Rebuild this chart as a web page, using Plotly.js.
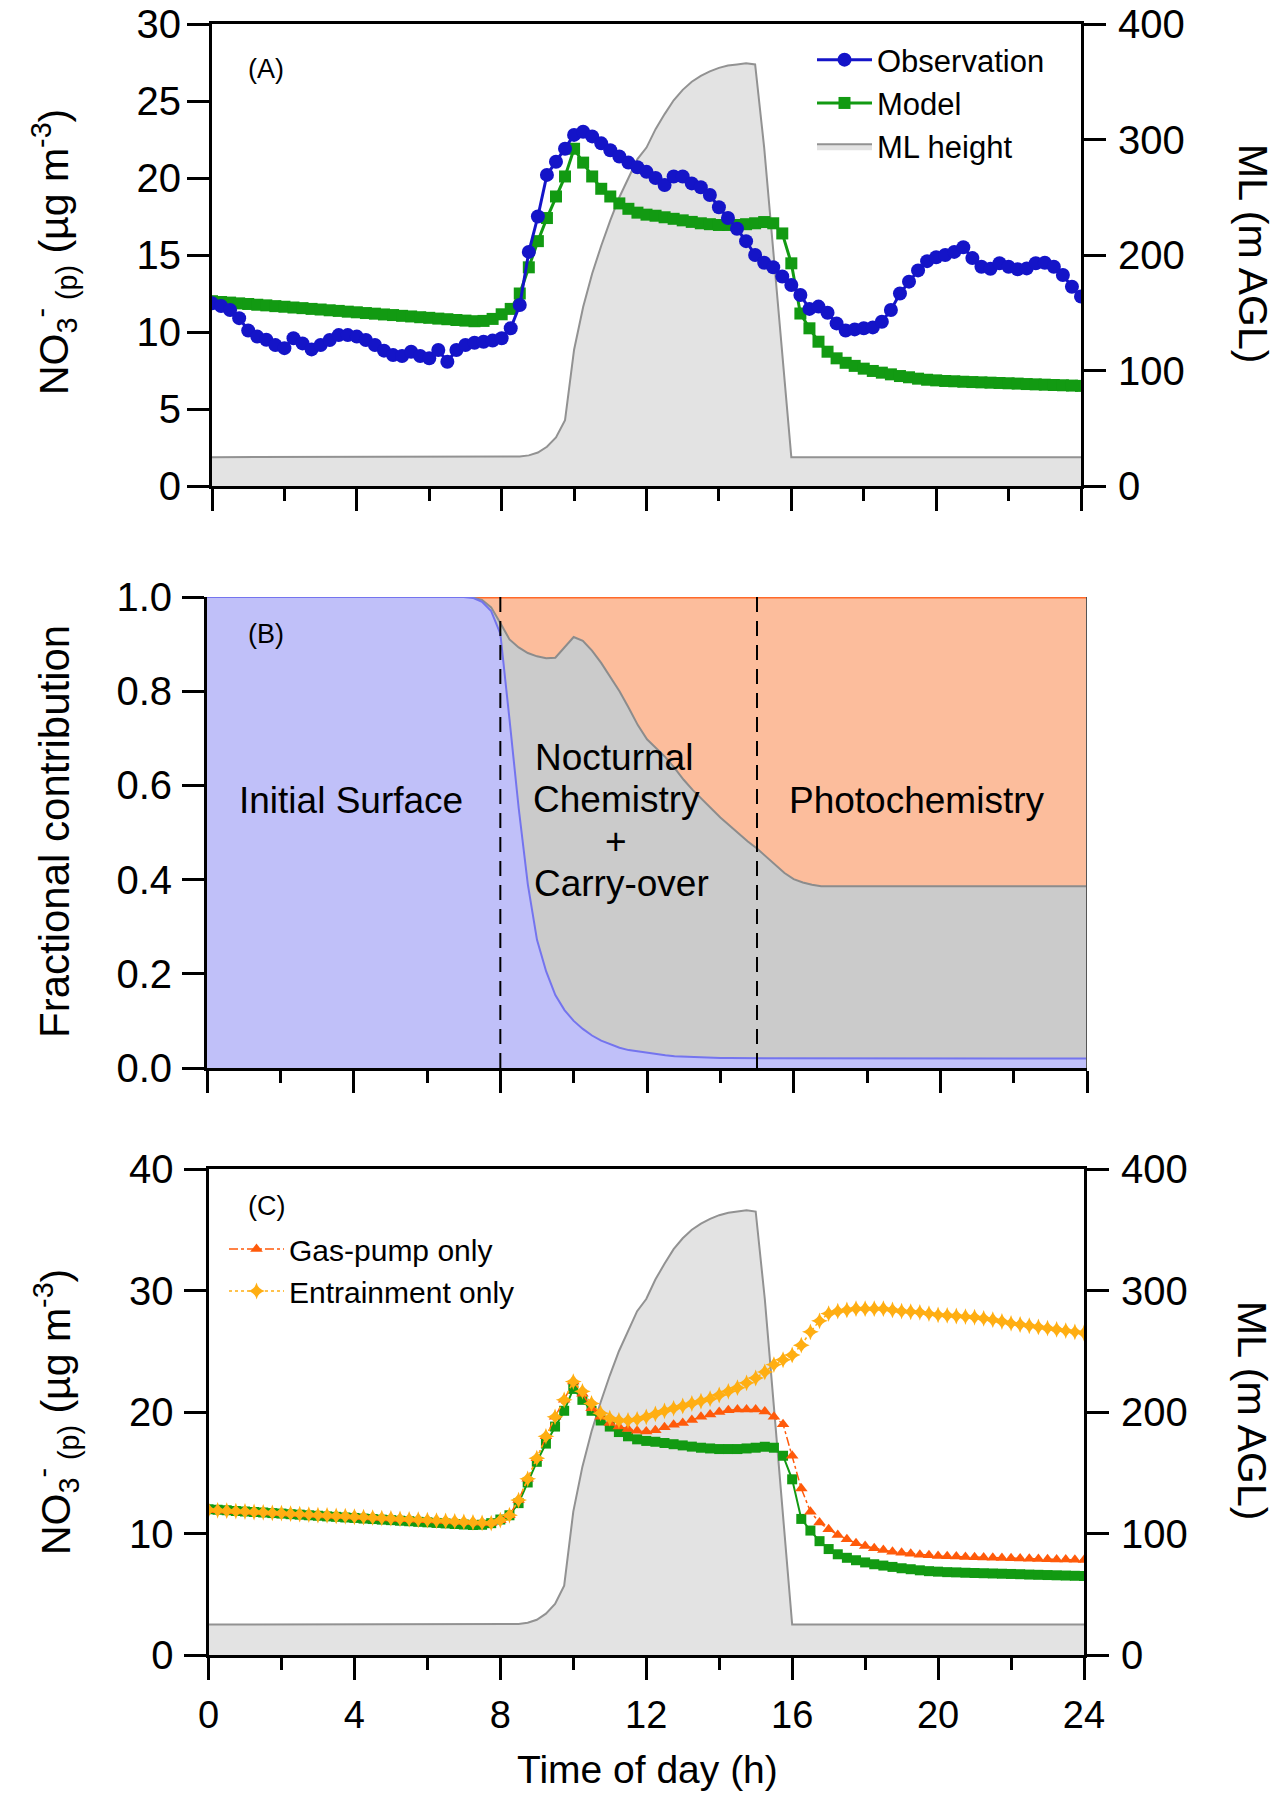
<!DOCTYPE html>
<html>
<head>
<meta charset="utf-8">
<script src="https://cdn.plot.ly/plotly-3.0.1.min.js"></script>
<style>
  html, body { margin: 0; padding: 0; background: #ffffff; overflow: hidden; }
  #chart { width: 1283px; height: 1800px; }
</style>
</head>
<body>
<div id="chart"></div>
<script>
// ---------------- DATA ----------------
const hours = [
  0,0.25,0.5,0.75,1,1.25,1.5,1.75,
  2,2.25,2.5,2.75,3,3.25,3.5,3.75,
  4,4.25,4.5,4.75,5,5.25,5.5,5.75,
  6,6.25,6.5,6.75,7,7.25,7.5,7.75,
  8,8.25,8.5,8.75,9,9.25,9.5,9.75,
  10,10.25,10.5,10.75,11,11.25,11.5,11.75,
  12,12.25,12.5,12.75,13,13.25,13.5,13.75,
  14,14.25,14.5,14.75,15,15.25,15.5,15.75,
  16,16.25,16.5,16.75,17,17.25,17.5,17.75,
  18,18.25,18.5,18.75,19,19.25,19.5,19.75,
  20,20.25,20.5,20.75,21,21.25,21.5,21.75,
  22,22.25,22.5,22.75,23,23.25,23.5,23.75,
  24
];

// Panel A – observed NO3-(p) (ug m-3)
const observation = [
  11.86,11.69,11.43,10.9,10.1,9.7,9.5,9.15,
  8.95,9.59,9.26,8.87,9.16,9.48,9.8,9.8,
  9.7,9.48,9.16,8.79,8.5,8.44,8.72,8.44,
  8.29,8.83,8.07,8.83,9.16,9.3,9.37,9.44,
  9.59,10.24,11.75,15.2,17.5,20.2,21.06,21.9,
  22.8,23.0,22.7,22.25,21.8,21.4,21.0,20.7,
  20.4,20.0,19.55,20.1,20.1,19.65,19.4,18.9,
  18.1,17.4,16.7,15.9,15.0,14.5,14.2,13.6,
  13.05,12.4,11.5,11.65,11.25,10.56,10.1,10.17,
  10.24,10.3,10.67,11.43,12.5,13.27,14.0,14.6,
  14.85,15.0,15.2,15.5,14.8,14.24,14.1,14.46,
  14.24,14.07,14.13,14.46,14.5,14.24,13.7,12.94,
  12.3
];

// Panels A and C – base model NO3-(p) (ug m-3)
const model = [
  12.0,11.95,11.91,11.86,11.82,11.77,11.73,11.68,
  11.64,11.59,11.55,11.5,11.46,11.41,11.37,11.32,
  11.28,11.23,11.19,11.14,11.1,11.05,11.01,10.96,
  10.92,10.87,10.83,10.78,10.74,10.7,10.72,10.85,
  11.15,11.5,12.5,14.2,15.9,17.4,18.8,20.1,
  21.9,21.0,20.1,19.3,18.8,18.35,18.0,17.75,
  17.62,17.55,17.45,17.35,17.25,17.15,17.06,17.0,
  16.95,16.95,16.95,17.0,17.06,17.14,17.06,16.4,
  14.46,11.2,10.24,9.37,8.72,8.29,8.0,7.8,
  7.62,7.47,7.36,7.25,7.14,7.06,6.97,6.9,
  6.86,6.82,6.8,6.77,6.75,6.73,6.71,6.69,
  6.67,6.65,6.62,6.6,6.58,6.56,6.54,6.52,
  6.5
];

// Mixed-layer height (m AGL)
const mlHeight = [
  25,25,25,25,25,25,25,25,
  25,25,25,25,25,25,25,25,
  25,25,25,25,25,25,25,25,
  25,25,25,25,25,25,25,25,
  25,25,25.5,26.5,29,34,42,57,
  118,155,184,208,230,250,267,283,
  293,309,322,334,343,350,355,359,
  362,364,365,366,365,293,204,115,
  25,25,25,25,25,25,25,25,
  25,25,25,25,25,25,25,25,
  25,25,25,25,25,25,25,25,
  25,25,25,25,25,25,25,25,
  25
];

// Panel C – sensitivity runs (ug m-3)
const gasPumpOnly = [
  11.95,11.91,11.88,11.84,11.81,11.77,11.74,11.7,
  11.67,11.63,11.6,11.56,11.52,11.49,11.45,11.42,
  11.38,11.35,11.31,11.27,11.24,11.2,11.17,11.13,
  11.1,11.06,11.03,10.99,10.95,10.92,10.88,10.86,
  11.1,11.5,12.75,14.5,16.2,18.0,19.6,21.0,
  22.5,21.5,20.3,19.6,19.1,18.8,18.6,18.45,
  18.4,18.5,18.75,18.95,19.1,19.35,19.6,19.8,
  20.0,20.15,20.2,20.2,20.2,20.05,19.6,19.0,
  16.4,13.7,11.8,10.9,10.35,9.88,9.52,9.2,
  8.97,8.78,8.64,8.5,8.42,8.34,8.26,8.2,
  8.15,8.12,8.1,8.07,8.05,8.03,8.01,7.99,
  7.97,7.95,7.93,7.91,7.89,7.87,7.85,7.83,
  7.82
];

const entrainmentOnly = [
  11.95,11.91,11.88,11.84,11.81,11.77,11.74,11.7,
  11.67,11.63,11.6,11.56,11.52,11.49,11.45,11.42,
  11.38,11.35,11.31,11.27,11.24,11.2,11.17,11.13,
  11.1,11.06,11.03,10.99,10.95,10.92,10.88,10.86,
  11.1,11.5,12.75,14.5,16.2,18.0,19.6,21.0,
  22.5,21.7,20.7,19.9,19.5,19.3,19.3,19.4,
  19.6,19.85,20.1,20.3,20.5,20.7,20.9,21.1,
  21.4,21.7,22.0,22.4,22.8,23.3,23.9,24.3,
  24.7,25.5,26.6,27.5,28.1,28.3,28.4,28.5,
  28.5,28.5,28.5,28.4,28.3,28.25,28.2,28.1,
  28.0,27.95,27.9,27.85,27.8,27.7,27.6,27.45,
  27.3,27.2,27.1,27.0,26.9,26.8,26.7,26.6,
  26.5
];

// Panel B – fractional contributions
const fracInitialSurface = [
  1,1,1,1,1,1,1,1,
  1,1,1,1,1,1,1,1,
  1,1,1,1,1,1,1,1,
  1,1,1,1,1,0.998,0.99,0.97,
  0.922,0.74,0.552,0.39,0.272,0.205,0.155,0.123,
  0.1,0.083,0.069,0.058,0.05,0.043,0.038,0.035,
  0.032,0.029,0.027,0.025,0.024,0.023,0.022,0.022,
  0.021,0.021,0.021,0.02,0.02,0.02,0.02,0.02,
  0.02,0.02,0.02,0.02,0.02,0.02,0.02,0.02,
  0.02,0.02,0.02,0.02,0.02,0.02,0.02,0.02,
  0.02,0.02,0.02,0.02,0.02,0.02,0.02,0.02,
  0.02,0.02,0.02,0.02,0.02,0.02,0.02,0.02,
  0.02
];

const fracNocturnalCarryover = [
  0,0,0,0,0,0,0,0,
  0,0,0,0,0,0,0,0,
  0,0,0,0,0,0,0,0,
  0,0,0,0,0,0.001,0.004,0.008,
  0.023,0.17,0.341,0.491,0.602,0.665,0.716,0.77,
  0.815,0.824,0.817,0.802,0.78,0.757,0.727,0.693,
  0.666,0.651,0.633,0.612,0.588,0.567,0.548,0.53,
  0.511,0.494,0.476,0.461,0.446,0.429,0.411,0.394,
  0.381,0.374,0.369,0.366,0.366,0.366,0.366,0.366,
  0.366,0.366,0.366,0.366,0.366,0.366,0.366,0.366,
  0.366,0.366,0.366,0.366,0.366,0.366,0.366,0.366,
  0.366,0.366,0.366,0.366,0.366,0.366,0.366,0.366,
  0.366
];

const fracPhotochemistry = [
  0,0,0,0,0,0,0,0,
  0,0,0,0,0,0,0,0,
  0,0,0,0,0,0,0,0,
  0,0,0,0,0,0.001,0.006,0.022,
  0.055,0.09,0.107,0.119,0.126,0.13,0.129,0.107,
  0.085,0.093,0.114,0.14,0.17,0.2,0.235,0.272,
  0.302,0.32,0.34,0.363,0.388,0.41,0.43,0.448,
  0.468,0.485,0.503,0.519,0.534,0.551,0.569,0.586,
  0.599,0.606,0.611,0.614,0.614,0.614,0.614,0.614,
  0.614,0.614,0.614,0.614,0.614,0.614,0.614,0.614,
  0.614,0.614,0.614,0.614,0.614,0.614,0.614,0.614,
  0.614,0.614,0.614,0.614,0.614,0.614,0.614,0.614,
  0.614
];

// Regime boundaries in panel B (h)
const regimeBoundaries = [8, 15];

// ---------------- PLOT ----------------
const FONT = 'Liberation Sans, Arial, Helvetica, sans-serif';

// cumulative boundaries for the layered areas of panel B
const cumSurface = fracInitialSurface.slice();
const cumNocturnal = fracInitialSurface.map((v, i) => v + fracNocturnalCarryover[i]);
const cumTotal = cumNocturnal.map((v, i) => v + fracPhotochemistry[i]);

const C = {
  obs: '#1414c8', model: '#129a12', mlFill: '#e3e3e3', mlLine: '#929292',
  gas: '#ff5a0a', ent: '#ffae12',
  bBlueFill: '#c0c0f9', bBlueLine: '#7474ee',
  bGreyFill: '#cbcbcb', bGreyLine: '#8c8c8c',
  bOrgFill: '#fcbd9c', bOrgLine: '#ff6a2a'
};

const traces = [
  // Panel A
  { x: hours, y: mlHeight, xaxis: 'x', yaxis: 'y', type: 'scatter', mode: 'lines',
    fill: 'tozeroy', fillcolor: C.mlFill, line: { color: C.mlLine, width: 2 },
    name: 'ML height', legend: 'legend', legendrank: 3 },
  { x: hours, y: model, xaxis: 'x', yaxis: 'y2', type: 'scatter', mode: 'lines+markers',
    line: { color: C.model, width: 3 }, marker: { symbol: 'square', size: 12, color: C.model },
    name: 'Model', legend: 'legend', legendrank: 2 },
  { x: hours, y: observation, xaxis: 'x', yaxis: 'y2', type: 'scatter', mode: 'lines+markers',
    line: { color: C.obs, width: 3 }, marker: { symbol: 'circle', size: 14, color: C.obs },
    name: 'Observation', legend: 'legend', legendrank: 1 },

  // Panel B (layered areas)
  { x: hours, y: cumTotal, xaxis: 'x2', yaxis: 'y3', type: 'scatter', mode: 'lines',
    fill: 'tozeroy', fillcolor: C.bOrgFill, line: { color: C.bOrgLine, width: 3 },
    name: 'Photochemistry', showlegend: false },
  { x: hours, y: cumNocturnal, xaxis: 'x2', yaxis: 'y3', type: 'scatter', mode: 'lines',
    fill: 'tozeroy', fillcolor: C.bGreyFill, line: { color: C.bGreyLine, width: 2 },
    name: 'Nocturnal Chemistry + Carry-over', showlegend: false },
  { x: hours, y: cumSurface, xaxis: 'x2', yaxis: 'y3', type: 'scatter', mode: 'lines',
    fill: 'tozeroy', fillcolor: C.bBlueFill, line: { color: C.bBlueLine, width: 2 },
    name: 'Initial Surface', showlegend: false },

  // Panel C
  { x: hours, y: mlHeight, xaxis: 'x3', yaxis: 'y4', type: 'scatter', mode: 'lines',
    fill: 'tozeroy', fillcolor: C.mlFill, line: { color: C.mlLine, width: 2 },
    name: 'ML height', showlegend: false },
  { x: hours, y: model, xaxis: 'x3', yaxis: 'y5', type: 'scatter', mode: 'lines+markers',
    line: { color: C.model, width: 2 }, marker: { symbol: 'square', size: 10, color: C.model },
    name: 'Model', showlegend: false },
  { x: hours, y: gasPumpOnly, xaxis: 'x3', yaxis: 'y5', type: 'scatter', mode: 'lines+markers',
    line: { color: C.gas, width: 1.5, dash: 'dashdot' }, marker: { symbol: 'triangle-up', size: 11, color: C.gas },
    name: 'Gas-pump only', legend: 'legend2', legendrank: 1 },
  { x: hours, y: entrainmentOnly, xaxis: 'x3', yaxis: 'y5', type: 'scatter', mode: 'lines+markers',
    line: { color: C.ent, width: 1.5, dash: 'dot' }, marker: { symbol: 'star-diamond', size: 12, color: C.ent },
    name: 'Entrainment only', legend: 'legend2', legendrank: 2 }
];

const baseAxis = {
  showline: true, linecolor: '#000', linewidth: 3,
  ticks: 'outside', ticklen: 22, tickwidth: 3, tickcolor: '#000',
  showgrid: false, zeroline: false, fixedrange: true,
  tickfont: { family: FONT, size: 40, color: '#000' }
};
const minorX = { dtick: 2, tick0: 0, ticks: 'outside', ticklen: 12, tickwidth: 3, tickcolor: '#000', showgrid: false };

const px = v => v / 1283;          // pixel -> paper x
const py = v => 1 - v / 1800;      // pixel -> paper y

const titleFont = s => ({ family: FONT, size: s, color: '#000' });
const paperNote = (x, y, text, size, extra) => Object.assign({
  xref: 'paper', yref: 'paper', x: px(x), y: py(y), text: text, showarrow: false,
  xanchor: 'center', yanchor: 'middle', font: titleFont(size)
}, extra || {});

const layout = {
  width: 1283, height: 1800,
  margin: { l: 0, r: 0, t: 0, b: 0, pad: 0 },
  paper_bgcolor: '#ffffff', plot_bgcolor: 'rgba(0,0,0,0)',
  font: { family: FONT, color: '#000' },
  showlegend: true,

  // Panel A
  xaxis: Object.assign({}, baseAxis, { domain: [px(212), px(1081)], range: [0, 24], dtick: 4, tick0: 0,
    showticklabels: false, mirror: true, anchor: 'y', minor: minorX }),
  yaxis: Object.assign({}, baseAxis, { domain: [py(486), py(24)], range: [0, 400], dtick: 100,
    side: 'right', anchor: 'x', ticklabelstandoff: 4 }),
  yaxis2: Object.assign({}, baseAxis, { range: [0, 30], dtick: 5, side: 'left', overlaying: 'y', anchor: 'x',
    ticklabelstandoff: -2 }),

  // Panel B
  xaxis2: Object.assign({}, baseAxis, { domain: [px(207), px(1087)], range: [0, 24], dtick: 4, tick0: 0,
    showticklabels: false, anchor: 'y3', minor: minorX }),
  yaxis3: Object.assign({}, baseAxis, { domain: [py(1068), py(597)], range: [0, 1], dtick: 0.2, tickformat: '.1f',
    anchor: 'x2', ticklabelstandoff: 2 }),

  // Panel C
  xaxis3: Object.assign({}, baseAxis, { domain: [px(208.5), px(1084)], range: [0, 24], dtick: 4, tick0: 0,
    showticklabels: true, mirror: true, anchor: 'y4', minor: minorX,
    tickfont: { family: FONT, size: 38, color: '#000' }, ticklabelstandoff: 2 }),
  yaxis4: Object.assign({}, baseAxis, { domain: [py(1655), py(1169)], range: [0, 400], dtick: 100,
    side: 'right', anchor: 'x3', ticklabelstandoff: 4 }),
  yaxis5: Object.assign({}, baseAxis, { range: [0, 40], dtick: 10, side: 'left', overlaying: 'y4', anchor: 'x3',
    ticklabelstandoff: 2 }),

  legend: {
    x: px(812), y: py(33), xanchor: 'left', yanchor: 'top',
    bgcolor: 'rgba(0,0,0,0)', borderwidth: 0, itemwidth: 55,
    font: { family: FONT, size: 31, color: '#000' }, traceorder: 'normal'
  },
  legend2: {
    x: px(224), y: py(1223), xanchor: 'left', yanchor: 'top',
    bgcolor: 'rgba(0,0,0,0)', borderwidth: 0, itemwidth: 55,
    font: { family: FONT, size: 30, color: '#000' }, traceorder: 'normal'
  },

  shapes: [
    ...regimeBoundaries.map(h => ({ type: 'line', xref: 'x2', yref: 'y3', x0: h, x1: h, y0: 0, y1: 1,
      line: { color: '#000', width: 2, dash: '15px,9px' }, layer: 'above' })),
    { type: 'line', xref: 'x2', yref: 'y3', x0: 24, x1: 24, y0: 0, y1: 1,
      line: { color: '#555', width: 2 }, layer: 'above' }
  ],

  annotations: [
    // axis titles
    paperNote(54, 252, 'NO<sub>3</sub><sup>-</sup><sub> (p)</sub> (µg m<sup>-3</sup>)', 41, { textangle: -90 }),
    paperNote(1253, 253, 'ML (m AGL)', 41, { textangle: 90 }),
    paperNote(54, 832, 'Fractional contribution', 42, { textangle: -90 }),
    paperNote(56, 1412, 'NO<sub>3</sub><sup>-</sup><sub> (p)</sub> (µg m<sup>-3</sup>)', 41, { textangle: -90 }),
    paperNote(1252, 1410, 'ML (m AGL)', 41, { textangle: 90 }),
    paperNote(647, 1769, 'Time of day (h)', 39),

    // panel labels
    paperNote(266, 69, '(A)', 27),
    paperNote(266, 634, '(B)', 27),
    paperNote(266, 1206, '(C)', 27),

    // regime labels (panel B)
    paperNote(351, 800, 'Initial Surface', 37),
    paperNote(614, 757, 'Nocturnal', 37),
    paperNote(616, 799, 'Chemistry', 37),
    paperNote(616, 841, '+', 37),
    paperNote(621, 884, 'Carry-over', 37),
    paperNote(916, 800, 'Photochemistry', 37)
  ]
};

Plotly.newPlot('chart', traces, layout, { staticPlot: true, displayModeBar: false });
</script>
</body>
</html>
